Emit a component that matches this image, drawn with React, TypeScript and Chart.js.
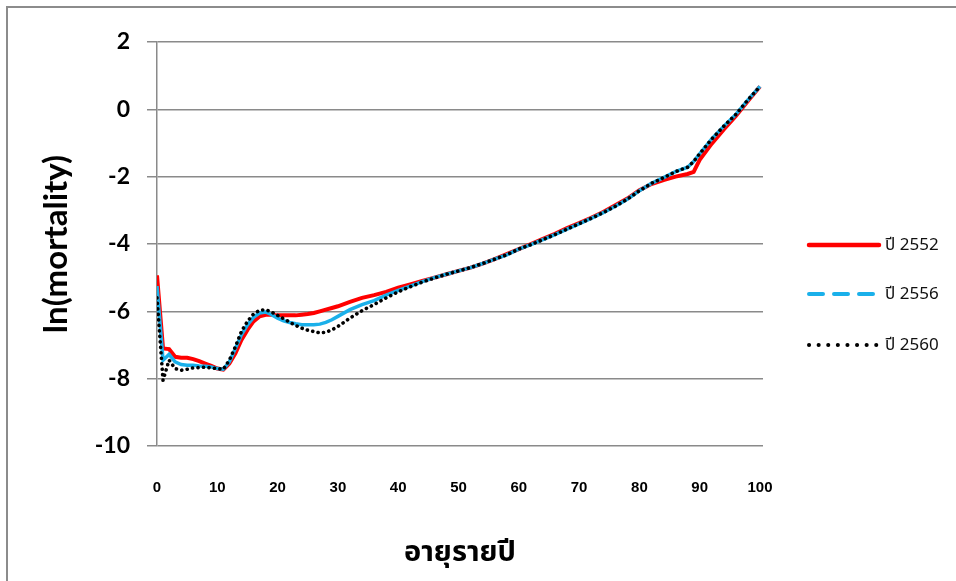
import React, { useEffect, useRef } from "react";
import { Chart, registerables } from "chart.js";

Chart.register(...registerables);

const AGES = [0,1,2,3,4,5,6,7,8,9,10,11,12,13,14,15,16,17,18,19,20,21,22,23,24,25,26,27,28,29,30,32,34,36,38,40,42,44,46,48,50,52,54,56,58,60,62,64,66,68,70,72,74,76,78,80,82,84,86,88,89,90,92,94,96,98,100];

const Y2552 = [-4.93,-7.1,-7.12,-7.35,-7.38,-7.38,-7.42,-7.48,-7.55,-7.62,-7.7,-7.73,-7.55,-7.25,-6.85,-6.55,-6.3,-6.15,-6.1,-6.1,-6.12,-6.12,-6.12,-6.12,-6.1,-6.08,-6.05,-6.0,-5.95,-5.9,-5.85,-5.72,-5.6,-5.52,-5.42,-5.3,-5.2,-5.1,-5.0,-4.9,-4.8,-4.7,-4.58,-4.45,-4.3,-4.15,-4.0,-3.85,-3.7,-3.53,-3.38,-3.22,-3.05,-2.85,-2.65,-2.4,-2.22,-2.1,-2.0,-1.92,-1.86,-1.5,-1.02,-0.6,-0.2,0.25,0.68];

const Y2556 = [-5.25,-7.45,-7.28,-7.5,-7.58,-7.6,-7.6,-7.62,-7.63,-7.65,-7.7,-7.72,-7.5,-7.1,-6.7,-6.4,-6.18,-6.05,-6.02,-6.1,-6.2,-6.28,-6.33,-6.37,-6.4,-6.4,-6.4,-6.38,-6.33,-6.25,-6.15,-5.95,-5.8,-5.68,-5.52,-5.38,-5.25,-5.12,-5.0,-4.9,-4.8,-4.7,-4.58,-4.45,-4.32,-4.15,-4.02,-3.87,-3.72,-3.56,-3.4,-3.24,-3.07,-2.88,-2.67,-2.42,-2.2,-2.03,-1.85,-1.72,-1.55,-1.32,-0.88,-0.5,-0.15,0.28,0.68];

const Y2560 = [-5.6,-8.05,-7.45,-7.7,-7.75,-7.72,-7.68,-7.67,-7.66,-7.68,-7.7,-7.72,-7.45,-7.05,-6.6,-6.3,-6.08,-5.97,-5.95,-6.02,-6.12,-6.22,-6.32,-6.42,-6.5,-6.56,-6.6,-6.64,-6.62,-6.55,-6.45,-6.2,-5.98,-5.8,-5.6,-5.42,-5.27,-5.13,-5.01,-4.9,-4.8,-4.7,-4.58,-4.45,-4.32,-4.15,-4.02,-3.87,-3.72,-3.56,-3.4,-3.24,-3.07,-2.88,-2.67,-2.42,-2.2,-2.03,-1.85,-1.72,-1.55,-1.32,-0.88,-0.5,-0.15,0.28,0.68];

const X_TICKS = [0,10,20,30,40,50,60,70,80,90,100];
const Y_TICKS = [2,0,-2,-4,-6,-8,-10];
const LEGEND_LABELS = ["ปี 2552", "ปี 2556", "ปี 2560"];
const X_TITLE = "อายุรายปี";
const Y_TITLE = "ln(mortality)";

const THAI_FONT = '"Noto Sans Thai", "Tahoma", "DejaVu Sans", "Liberation Sans", sans-serif';

export default function App() {
  const ref = useRef<HTMLCanvasElement | null>(null);

  useEffect(() => {
    const canvas = ref.current;
    if (!canvas) return;
    const toPts = (ys: number[]) => AGES.map((a, i) => ({ x: a, y: ys[i] }));
    const chart = new Chart(canvas, {
      type: "line",
      data: {
        datasets: [
          {
            label: LEGEND_LABELS[2],
            data: toPts(Y2560),
            borderColor: "#000000",
            borderWidth: 3.6,
            borderCapStyle: "round",
            borderDash: [0.1, 5.4],
            pointRadius: 0,
            tension: 0,
            order: 0,
          },
          {
            label: LEGEND_LABELS[1],
            data: toPts(Y2556),
            borderColor: "#1AB0EA",
            borderWidth: 3.5,
            pointRadius: 0,
            tension: 0,
            order: 1,
          },
          {
            label: LEGEND_LABELS[0],
            data: toPts(Y2552),
            borderColor: "#FF0000",
            borderWidth: 4,
            pointRadius: 0,
            tension: 0,
            order: 2,
          },
        ],
      },
      options: {
        animation: false,
        responsive: false,
        devicePixelRatio: 1,
        layout: { padding: { left: 0, top: 42, right: 193, bottom: 0 } },
        plugins: { legend: { display: false }, tooltip: { enabled: false } },
        scales: {
          x: {
            type: "linear",
            min: 0,
            max: 100.5,
            afterBuildTicks: (s: any) => {
              s.ticks = X_TICKS.map((v) => ({ value: v }));
            },
            afterFit: (s: any) => {
              s.height = 135;
            },
            grid: { display: false, drawTicks: false },
            border: { display: false },
            ticks: {
              padding: 33,
              color: "#000",
              font: { family: '"Liberation Sans", Arial, sans-serif', size: 15, weight: "bold" },
              maxRotation: 0,
              autoSkip: false,
            },
            title: {
              display: true,
              text: X_TITLE,
              color: "#000",
              font: { family: THAI_FONT, size: 29, weight: "bold" },
              padding: { top: 0, bottom: 8 },
            },
          },
          y: {
            min: -10,
            max: 2,
            afterBuildTicks: (s: any) => {
              s.ticks = Y_TICKS.map((v) => ({ value: v }));
            },
            afterFit: (s: any) => {
              s.width = 157;
            },
            grid: { color: "#8a8a8a", lineWidth: 1.5, drawTicks: true, tickLength: 10, tickColor: "#8a8a8a" },
            border: { display: true, color: "#8a8a8a", width: 1.5 },
            ticks: {
              padding: 17,
              color: "#000",
              font: { family: "Lato, Carlito, sans-serif", size: 23, weight: "bold" },
            },
            title: {
              display: true,
              text: Y_TITLE,
              color: "#000",
              font: { family: "Lato, Carlito, sans-serif", size: 33, weight: "bold" },
              padding: { top: 37, bottom: 0 },
            },
          },
        },
      },
    });
    return () => chart.destroy();
  }, []);

  const legendItem = (i: number, top: number, stroke: string, dash: string, width: number, cap: string) => (
    <div key={i} style={{ position: "absolute", left: 806, top: top - 12, height: 24, display: "flex", alignItems: "center" }}>
      <svg width={76} height={24} style={{ display: "block" }}>
        <line x1={3} y1={12} x2={73} y2={12} stroke={stroke} strokeWidth={width} strokeDasharray={dash} strokeLinecap={cap as any} />
      </svg>
      <span style={{ marginLeft: 3, fontFamily: THAI_FONT, fontSize: 17, color: "#111", whiteSpace: "nowrap" }}>{LEGEND_LABELS[i]}</span>
    </div>
  );

  return (
    <div style={{ position: "fixed", left: 0, top: 0, width: 956, height: 581, background: "#fff", overflow: "hidden" }}>
      <canvas ref={ref} width={956} height={581} style={{ position: "absolute", left: 0, top: 0, width: 956, height: 581 }} />
      <div style={{ position: "absolute", left: 6, top: 6, width: 960, height: 600, borderTop: "2px solid #8c8c8c", borderLeft: "2px solid #8c8c8c", pointerEvents: "none" }} />
      {legendItem(0, 245, "#FF0000", "none", 4.5, "round")}
      {legendItem(1, 294, "#1AB0EA", "14 11", 4, "round")}
      {legendItem(2, 345, "#000000", "0.1 9.5", 4, "round")}
    </div>
  );
}
